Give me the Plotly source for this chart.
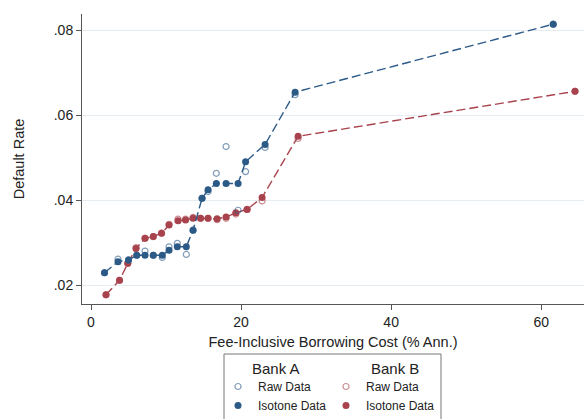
import plotly.graph_objects as go

# Bank A (blue)
a_x = [1.8, 3.6, 5.0, 6.1, 7.2, 8.3, 9.5, 10.4, 11.5, 12.7, 13.6, 14.8, 15.6, 16.7, 18.0, 19.6, 20.6, 23.2, 27.2, 61.6]
a_raw = [0.0229, 0.0261, 0.0259, 0.0270, 0.0280, 0.0270, 0.0265, 0.0290, 0.0298, 0.0272,
         0.0329, 0.0404, 0.0420, 0.0463, 0.0526, 0.0376, 0.0467, 0.0524, 0.0648, 0.0814]
a_iso = [0.0229, 0.0255, 0.0259, 0.0270, 0.0270, 0.0270, 0.0270, 0.0282, 0.0290, 0.0290,
         0.0329, 0.0404, 0.0424, 0.0439, 0.0439, 0.0439, 0.0490, 0.0531, 0.0654, 0.0814]

# Bank B (red)
b_x = [2.0, 3.8, 4.9, 6.0, 7.2, 8.3, 9.4, 10.4, 11.6, 12.6, 13.6, 14.6, 15.6, 16.8, 18.0, 19.3, 20.8, 22.8, 27.6, 64.5]
b_raw = [0.0177, 0.0211, 0.0251, 0.0288, 0.0310, 0.0314, 0.0322, 0.0343, 0.0355, 0.0355,
         0.0359, 0.0357, 0.0357, 0.0354, 0.0357, 0.0367, 0.0378, 0.0398, 0.0545, 0.0656]
b_iso = [0.0177, 0.0211, 0.0251, 0.0286, 0.0310, 0.0314, 0.0322, 0.0341, 0.0351, 0.0353,
         0.0357, 0.0357, 0.0357, 0.0356, 0.0360, 0.0370, 0.0378, 0.0406, 0.0550, 0.0656]

y_ticks = [0.02, 0.04, 0.06, 0.08]
y_ticktext = [".02", ".04", ".06", ".08"]
x_ticks = [0, 20, 40, 60]
bank_names = ["Bank A", "Bank B"]

BLUE = "#2c5a87"
BLUE_LIGHT = "rgba(44,90,135,0.6)"
RED = "#a8434d"
RED_LIGHT = "rgba(168,67,77,0.6)"
FONT = "Liberation Sans, Arial, sans-serif"
DASH = "9px,4px"

# plot area in pixels
L, R, T, B = 82, 584, 14, 304
W, H = R - L, B - T
def px(xp):
    return (xp - L) / W
def py(yp):
    return (B - yp) / H

fig = go.Figure()

def add_bank(x, raw, iso, name, col, col_light, rank):
    fig.add_trace(go.Scatter(x=x, y=raw, mode="markers", name="Raw Data",
                             legendgroup=name, legendrank=rank,
                             marker=dict(symbol="circle-open", size=6, color=col_light,
                                         line=dict(width=1.2, color=col_light))))
    fig.add_trace(go.Scatter(x=x, y=iso, mode="lines", showlegend=False,
                             legendgroup=name,
                             line=dict(color=col, width=1.4, dash=DASH)))
    fig.add_trace(go.Scatter(x=x, y=iso, mode="markers", name="Isotone Data",
                             legendgroup=name, legendrank=rank + 1,
                             marker=dict(symbol="circle", size=7, color=col)))

add_bank(b_x, b_raw, b_iso, bank_names[1], RED, RED_LIGHT, 10)
add_bank(a_x, a_raw, a_iso, bank_names[0], BLUE, BLUE_LIGHT, 1)

fig.update_layout(
    width=584, height=419,
    margin=dict(l=L, r=584 - R, t=T, b=419 - B, autoexpand=False),
    paper_bgcolor="white", plot_bgcolor="white",
    font=dict(family=FONT, size=14, color="#222"),
    legend=dict(orientation="h", traceorder="grouped",
                x=px(218), xanchor="left",
                y=py(372), yanchor="top",
                borderwidth=0, bgcolor="rgba(0,0,0,0)",
                font=dict(size=12, color="#222"),
                itemwidth=30, entrywidth=63, tracegroupgap=0),
    xaxis=dict(range=[-1.2, 65.7], tickvals=x_ticks, showgrid=False, zeroline=False,
               showline=True, linecolor="#555", linewidth=1,
               ticks="outside", ticklen=5, tickcolor="#555",
               tickfont=dict(size=14),
               title=dict(text="Fee-Inclusive Borrowing Cost (% Ann.)",
                          font=dict(size=14.5), standoff=8)),
    yaxis=dict(range=[0.01553, 0.0838], tickvals=y_ticks, ticktext=y_ticktext,
               showgrid=True, gridcolor="#e6edf2", gridwidth=1, zeroline=False,
               showline=True, linecolor="#555", linewidth=1,
               ticks="outside", ticklen=5, tickcolor="#555",
               tickfont=dict(size=14),
               title=dict(text="Default Rate", font=dict(size=14.5), standoff=25)),
    shapes=[dict(type="rect", xref="paper", yref="paper",
                 x0=px(224), x1=px(441), y0=py(354), y1=py(440),
                 line=dict(color="#777", width=1), fillcolor="rgba(0,0,0,0)")],
    annotations=[
        dict(text=bank_names[0], xref="paper", yref="paper", x=px(250), y=py(369),
             xanchor="left", yanchor="middle", showarrow=False,
             font=dict(size=15, color="#222")),
        dict(text=bank_names[1], xref="paper", yref="paper", x=px(369), y=py(369),
             xanchor="left", yanchor="middle", showarrow=False,
             font=dict(size=15, color="#222")),
    ],
)

fig.write_html("out.html", config={"displayModeBar": False},
               post_script="document.body.style.margin='0';")
